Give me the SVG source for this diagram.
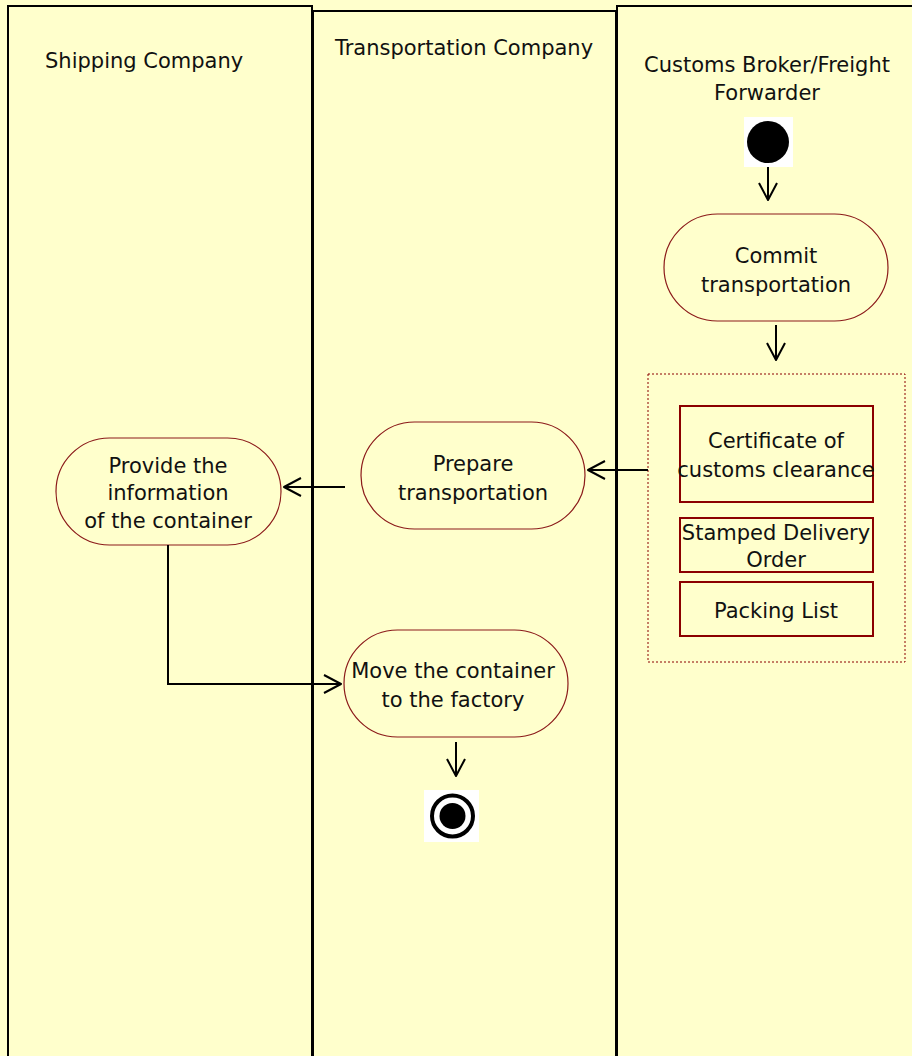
<svg xmlns="http://www.w3.org/2000/svg" width="912" height="1056" viewBox="0 0 912 1056">
<style>
.lane{fill:#FFFFCC;stroke:#000;stroke-width:2}
.act{fill:#FFFFCC;stroke:#8B1A1A;stroke-width:1.2}
.doc{fill:#FFFFCC;stroke:#8B0000;stroke-width:2}
.t{font-family:"DejaVu Sans",Verdana,sans-serif;font-size:21px;fill:#111;text-anchor:middle}
.conn{fill:none;stroke:#000;stroke-width:2;marker-end:url(#arr)}
</style>
<defs>
<marker id="arr" viewBox="0 0 18 20" refX="17" refY="10" markerWidth="18" markerHeight="20" markerUnits="userSpaceOnUse" orient="auto" overflow="visible">
<path d="M0,1 L17,10 L0,19" fill="none" stroke="#000" stroke-width="2" stroke-linejoin="round"/>
</marker>
</defs>
<rect width="912" height="1056" fill="#FFFFCC"/>
<g id="lane-shipping">
<rect class="lane" x="8" y="6" width="304" height="1060"/>
<text class="t" x="45" y="68" style="text-anchor:start">Shipping Company</text>
</g>
<g id="lane-transport">
<rect class="lane" x="313" y="11" width="303" height="1060"/>
<text class="t" x="464" y="55">Transportation Company</text>
</g>
<g id="lane-customs">
<rect class="lane" x="617" y="6" width="310" height="1060"/>
<text class="t" x="767" y="72">Customs Broker/Freight</text>
<text class="t" x="767" y="100">Forwarder</text>
</g>
<g id="start">
<rect x="744" y="117" width="49" height="50" fill="#fff"/>
<circle cx="768" cy="142" r="21" fill="#000"/>
</g>
<g id="commit">
<rect class="act" x="664" y="214" width="224" height="107" rx="53.5"/>
<text class="t" x="776" y="263">Commit</text>
<text class="t" x="776" y="292">transportation</text>
</g>
<g id="documents">
<rect x="648" y="374" width="257" height="288" fill="none" stroke="#8B0000" stroke-width="1" stroke-dasharray="2,2"/>
<rect class="doc" x="680" y="406" width="193" height="96"/>
<text class="t" x="776" y="448">Certificate of</text>
<text class="t" x="776" y="477">customs clearance</text>
<rect class="doc" x="680" y="518" width="193" height="54"/>
<text class="t" x="776" y="540">Stamped Delivery</text>
<text class="t" x="776" y="567">Order</text>
<rect class="doc" x="680" y="582" width="193" height="54"/>
<text class="t" x="776" y="618">Packing List</text>
</g>
<g id="prepare">
<rect class="act" x="361" y="422" width="224" height="107" rx="53.5"/>
<text class="t" x="473" y="471">Prepare</text>
<text class="t" x="473" y="500">transportation</text>
</g>
<g id="provide">
<rect class="act" x="56" y="438" width="225" height="107" rx="53.5"/>
<text class="t" x="168" y="473">Provide the</text>
<text class="t" x="168" y="500">information</text>
<text class="t" x="168" y="528">of the container</text>
</g>
<g id="move">
<rect class="act" x="344" y="630" width="224" height="107" rx="53.5"/>
<text class="t" x="453" y="678">Move the container</text>
<text class="t" x="453" y="707">to the factory</text>
</g>
<g id="end">
<rect x="424" y="790" width="55" height="52" fill="#fff"/>
<circle cx="452.5" cy="816" r="20.5" fill="none" stroke="#000" stroke-width="4"/>
<circle cx="452.5" cy="816" r="13" fill="#000"/>
</g>
<g id="connectors">
<path class="conn" d="M768,167 L768,200"/>
<path class="conn" d="M776,325 L776,360"/>
<path class="conn" d="M648,470 L588,470"/>
<path class="conn" d="M345,487 L284,487"/>
<path class="conn" d="M168,545 L168,684 L341,684"/>
<path class="conn" d="M456,742 L456,776"/>
</g>
</svg>
